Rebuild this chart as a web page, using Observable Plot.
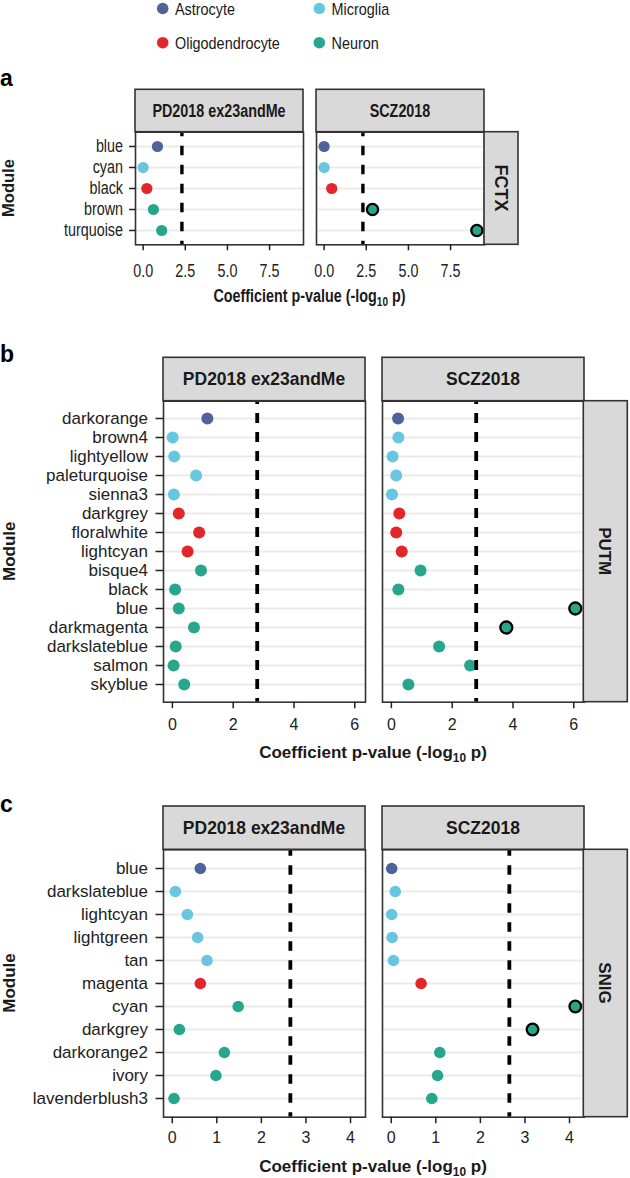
<!DOCTYPE html>
<html>
<head>
<meta charset="utf-8">
<script src="https://cdn.jsdelivr.net/npm/d3@7"></script>
<script src="https://cdn.jsdelivr.net/npm/@observablehq/plot@0.6"></script>
<style>
  body { margin: 0; background: #fff; }
  #root { position: relative; width: 630px; height: 1178px; overflow: hidden; background: #fff; }
</style>
</head>
<body>
<div id="root"></div>
<script>
// ---------------- DATA ----------------
const cellTypes = ["Astrocyte", "Oligodendrocyte", "Microglia", "Neuron"];
const cellColors = ["#4e6399", "#e3262b", "#68c6e0", "#26a78b"];
const studies = ["PD2018 ex23andMe", "SCZ2018"];

// Panel a: FCTX
const fctxModules = ["blue", "cyan", "black", "brown", "turquoise"];
const fctxCellType = ["Astrocyte", "Microglia", "Oligodendrocyte", "Neuron", "Neuron"];
const fctxPD = [0.85, 0.00, 0.22, 0.61, 1.10];
const fctxSCZ = [0.00, 0.00, 0.45, 2.87, 9.06];
const fctxThreshold = 2.30;
const fctxTicks = [0, 2.5, 5, 7.5];

// Panel b: PUTM
const putmModules = ["darkorange", "brown4", "lightyellow", "paleturquoise", "sienna3", "darkgrey", "floralwhite", "lightcyan", "bisque4", "black", "blue", "darkmagenta", "darkslateblue", "salmon", "skyblue"];
const putmCellType = ["Astrocyte", "Microglia", "Microglia", "Microglia", "Microglia", "Oligodendrocyte", "Oligodendrocyte", "Oligodendrocyte", "Neuron", "Neuron", "Neuron", "Neuron", "Neuron", "Neuron", "Neuron"];
const putmPD = [1.15, 0.01, 0.06, 0.78, 0.05, 0.21, 0.88, 0.50, 0.94, 0.09, 0.21, 0.71, 0.11, 0.04, 0.39];
const putmSCZ = [0.22, 0.23, 0.04, 0.16, 0.02, 0.26, 0.16, 0.34, 0.96, 0.23, 6.05, 3.78, 1.57, 2.59, 0.56];
const putmThreshold = 2.79;
const putmTicks = [0, 2, 4, 6];

// Panel c: SNIG
const snigModules = ["blue", "darkslateblue", "lightcyan", "lightgreen", "tan", "magenta", "cyan", "darkgrey", "darkorange2", "ivory", "lavenderblush3"];
const snigCellType = ["Astrocyte", "Microglia", "Microglia", "Microglia", "Microglia", "Oligodendrocyte", "Neuron", "Neuron", "Neuron", "Neuron", "Neuron"];
const snigPD = [0.63, 0.07, 0.34, 0.57, 0.78, 0.63, 1.48, 0.16, 1.17, 0.98, 0.04];
const snigSCZ = [0.01, 0.09, 0.01, 0.02, 0.05, 0.67, 4.13, 3.17, 1.09, 1.04, 0.91];
const snigThreshold = 2.65;
const snigTicks = [0, 1, 2, 3, 4];

const panelLetters = ["a", "b", "c"];
const tissues = ["FCTX", "PUTM", "SNIG"];
const yTitle = "Module";
const xTitle = "Coefficient p-value (-log";

// ---------------- LAYOUT ----------------
const FONT = '"Liberation Sans", Arial, Helvetica, sans-serif';
const W = 630;
const root = document.getElementById("root");

// horizontally condense a text element around its own anchor point
function squeeze(sel, f) {
  sel.each(function () {
    const tr = this.getAttribute("transform") || "";
    const m = tr.match(/translate\(\s*([-\d.e]+)(?:[ ,]\s*([-\d.e]+))?\s*\)/);
    let tx = 0, ty = 0, rest = tr;
    if (m) { tx = +m[1]; ty = m[2] != null ? +m[2] : 0; rest = tr.replace(m[0], ""); }
    const xa = this.getAttribute("x");
    if (xa != null && /^[-\d.e]+$/.test(xa.trim())) {
      tx += +xa;
      this.setAttribute("x", 0);
    }
    this.setAttribute("transform", `translate(${tx},${ty}) scale(${f},1)${rest}`);
  });
}

const panels = [
  {letter: panelLetters[0], tissue: tissues[0], modules: fctxModules, types: fctxCellType, pd: fctxPD, scz: fctxSCZ,
   threshold: fctxThreshold, ticks: fctxTicks, fmt: d3.format(".1f"),
   svgTop: 85, L: 135, R: 484, panelTop: 131.7, panelBottom: 244.3, stripTop: 89.3, rightW: 34, p: 0.0734,
   fs: 17.5, tfs: 17.5, sq: 0.82, r: 5.6, txs: 6, txp: 13.6, tys: 6, typ: 6.5,
   dashW: 3.4, dash: "9.5,9.5", dashOff: 5, stripFs: 17.5, tissueFs: 18,
   letterY: 86, moduleX: 7.6, moduleFs: 16.5, titleY: 302},
  {letter: panelLetters[1], tissue: tissues[1], modules: putmModules, types: putmCellType, pd: putmPD, scz: putmSCZ,
   threshold: putmThreshold, ticks: putmTicks, fmt: d3.format("d"),
   svgTop: 353, L: 162.7, R: 583.3, panelTop: 400.7, panelBottom: 701.7, stripTop: 357.3, rightW: 44, p: 0.0795,
   fs: 17, tfs: 16, sq: 1, r: 6, txs: 6.5, txp: 10, tys: 7.5, typ: 8,
   dashW: 3.8, dash: "10,9", dashOff: 6.7, stripFs: 17.5, tissueFs: 17,
   letterY: 361.5, moduleX: 8.6, moduleFs: 17, titleY: 758.4},
  {letter: panelLetters[2], tissue: tissues[2], modules: snigModules, types: snigCellType, pd: snigPD, scz: snigSCZ,
   threshold: snigThreshold, ticks: snigTicks, fmt: d3.format("d"),
   svgTop: 802, L: 162.7, R: 583.3, panelTop: 849.3, panelBottom: 1116.7, stripTop: 806, rightW: 44, p: 0.0795,
   fs: 17, tfs: 16, sq: 1, r: 5.8, txs: 6.5, txp: 7.5, tys: 7.5, typ: 8,
   dashW: 3.8, dash: "9.5,9.5", dashOff: 3, stripFs: 17.5, tissueFs: 17,
   letterY: 811.5, moduleX: 8.6, moduleFs: 17, titleY: 1172}
];

const overlay = d3.create("svg")
  .attr("width", W).attr("height", 1178)
  .style("position", "absolute").style("left", "0px").style("top", "0px")
  .style("font-family", FONT).style("pointer-events", "none");

panels.forEach(cfg => {
  const data = [];
  studies.forEach((s, si) => cfg.modules.forEach((m, i) => {
    const v = (si === 0 ? cfg.pd : cfg.scz)[i];
    data.push({study: s, module: m, type: cfg.types[i], value: v, sig: v > cfg.threshold});
  }));
  const vals = data.map(d => d.value);
  const lo = d3.min(vals), hi = d3.max(vals), pad = (hi - lo) * 0.05;
  const marginTop = cfg.panelTop - cfg.svgTop;
  const marginBottom = 40;
  const height = cfg.panelBottom - cfg.svgTop + marginBottom;

  const plot = Plot.plot({
    width: W, height,
    marginLeft: cfg.L, marginRight: W - cfg.R, marginTop, marginBottom,
    style: {fontFamily: FONT, fontSize: cfg.fs + "px", color: "#1a1a1a", background: "transparent", overflow: "visible"},
    fx: {domain: studies, paddingInner: cfg.p, paddingOuter: 0, axis: null, label: null},
    x: {domain: [lo - pad, hi + pad]},
    y: {type: "point", domain: cfg.modules, padding: 0.6},
    color: {domain: cellTypes, range: cellColors},
    marks: [
      Plot.ruleY(cfg.modules, {y: d => d, stroke: "#ebebeb", strokeWidth: 2}),
      Plot.dot(data, {filter: d => !d.sig, x: "value", y: "module", fx: "study", fill: "type", r: cfg.r}),
      Plot.dot(data, {filter: d => d.sig, x: "value", y: "module", fx: "study", fill: "type", r: cfg.r, stroke: "#000", strokeWidth: 2.3}),
      Plot.ruleX([cfg.threshold], {stroke: "#000", strokeWidth: cfg.dashW, strokeDasharray: cfg.dash, strokeDashoffset: cfg.dashOff}),
      Plot.frame({stroke: "#333", strokeWidth: 1.6}),
      Plot.axisX({ticks: cfg.ticks, tickFormat: cfg.fmt, tickSize: cfg.txs, tickPadding: cfg.txp, fontSize: cfg.tfs, label: null, color: "#222", strokeWidth: 1.5}),
      Plot.axisY({tickSize: cfg.tys, tickPadding: cfg.typ, fontSize: cfg.fs, label: null, color: "#222", strokeWidth: 1.5})
    ]
  });

  plot.style.position = "absolute";
  plot.style.left = "0px";
  plot.style.top = cfg.svgTop + "px";
  root.appendChild(plot);

  // facet geometry from Plot's fx scale
  const fx = plot.scale("fx");
  const bw = fx.bandwidth;
  const svg = d3.select(plot);
  const g = svg.append("g").attr("class", "strips").style("font-family", FONT);
  const stripY = cfg.stripTop - cfg.svgTop;
  const stripH = marginTop - stripY;
  studies.forEach(s => {
    const x0 = fx.apply(s);
    g.append("rect").attr("x", x0).attr("y", stripY).attr("width", bw).attr("height", stripH)
      .attr("fill", "#d9d9d9").attr("stroke", "#333").attr("stroke-width", 1.6);
    g.append("text").attr("class", "sq").attr("x", x0 + bw / 2).attr("y", stripY + stripH / 2).attr("dy", "0.36em")
      .attr("text-anchor", "middle").attr("font-weight", "bold").attr("font-size", cfg.stripFs).attr("fill", "#1a1a1a").text(s);
  });
  const plotH = cfg.panelBottom - cfg.panelTop;
  g.append("rect").attr("x", cfg.R).attr("y", marginTop).attr("width", cfg.rightW).attr("height", plotH)
    .attr("fill", "#d9d9d9").attr("stroke", "#333").attr("stroke-width", 1.6);
  g.append("text")
    .attr("transform", `translate(${cfg.R + cfg.rightW / 2},${marginTop + plotH / 2}) rotate(90)`)
    .attr("dy", "0.36em").attr("text-anchor", "middle").attr("font-weight", "bold")
    .attr("font-size", cfg.tissueFs).attr("fill", "#1a1a1a").text(cfg.tissue);

  if (cfg.sq !== 1) {
    squeeze(svg.selectAll('g[aria-label="x-axis tick label"] text, g[aria-label="y-axis tick label"] text, text.sq'), cfg.sq);
  }

  // overlay texts: panel letter, y title, x title
  overlay.append("text").attr("x", 0).attr("y", cfg.letterY).attr("font-size", 23).attr("font-weight", "bold")
    .attr("fill", "#000").text(cfg.letter);
  overlay.append("text")
    .attr("transform", `translate(${cfg.moduleX},${(cfg.panelTop + cfg.panelBottom) / 2}) rotate(-90)`)
    .attr("dy", "0.36em").attr("text-anchor", "middle").attr("font-weight", "bold")
    .attr("font-size", cfg.moduleFs).attr("fill", "#1a1a1a").text(yTitle);
  const t = overlay.append("text").attr("x", (cfg.L + cfg.R) / 2).attr("y", cfg.titleY)
    .attr("text-anchor", "middle").attr("font-weight", "bold").attr("font-size", cfg.fs).attr("fill", "#1a1a1a");
  t.append("tspan").text(xTitle);
  t.append("tspan").attr("font-size", cfg.fs * 0.7).attr("dy", 4).text("10");
  t.append("tspan").attr("dy", -4).text(" p)");
  if (cfg.sq !== 1) squeeze(t, cfg.sq);
});

// legend
const legX = [162.7, 319.3], legY = [8.5, 42.7];
cellTypes.forEach((tp, i) => {
  const col = Math.floor(i / 2), row = i % 2;
  overlay.append("circle").attr("cx", legX[col]).attr("cy", legY[row]).attr("r", 5.8).attr("fill", cellColors[i]);
  overlay.append("text").attr("class", "leg").attr("x", legX[col] + 12.3).attr("y", legY[row] + 6.5)
    .attr("font-size", 16).attr("fill", "#1a1a1a").text(tp);
});
squeeze(overlay.selectAll("text.leg"), 0.9);

root.appendChild(overlay.node());
</script>
</body>
</html>
